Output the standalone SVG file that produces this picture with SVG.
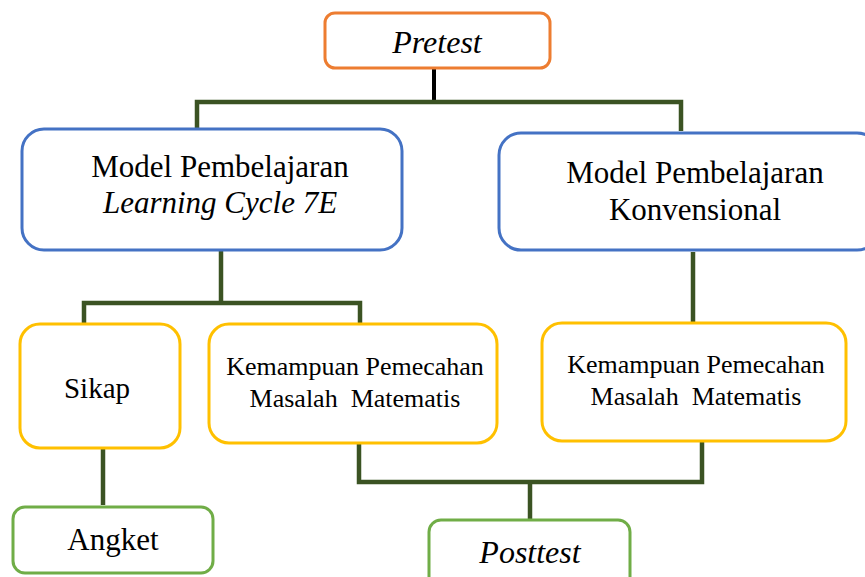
<svg xmlns="http://www.w3.org/2000/svg" width="865" height="577" viewBox="0 0 865 577">
<style>
.box{fill:#fff;stroke-width:3}
.o{stroke:#ED7D31}.b{stroke:#4472C4}.y{stroke:#FFC000}.g{stroke:#70AD47}
.i{font-style:italic}
.c{fill:none;stroke:#3B5323;stroke-width:4.5}
</style>
<rect width="865" height="577" fill="#fff"/>
<g id="connectors">
<line x1="434" y1="68" x2="434" y2="101" stroke="#000" stroke-width="4"/>
<polyline class="c" points="197,131 197,102 681,102 681,131"/>
<line class="c" x1="221" y1="250" x2="221" y2="303"/>
<polyline class="c" points="84,323 84,303 360,303 360,323"/>
<line class="c" x1="693" y1="252" x2="693" y2="322"/>
<line class="c" x1="103" y1="448" x2="103" y2="505"/>
<polyline class="c" points="359,443 359,482 702,482 702,441"/>
<line class="c" x1="530" y1="482" x2="530" y2="520"/>
</g>
<g font-family="Liberation Serif, serif" text-anchor="middle" fill="#000">
<g id="pretest"><rect class="box o" x="325" y="13" width="225" height="55" rx="10"/><text class="i" x="437" y="53" font-size="32">Pretest</text></g>
<g id="lc7e"><rect class="box b" x="22" y="129" width="380" height="121" rx="22"/><text x="220" y="177" font-size="31">Model Pembelajaran</text><text class="i" x="220" y="213" font-size="31">Learning Cycle 7E</text></g>
<g id="konv"><rect class="box b" x="499" y="133" width="380" height="117" rx="22"/><text x="695" y="183" font-size="31">Model Pembelajaran</text><text x="695" y="220" font-size="31">Konvensional</text></g>
<g id="sikap"><rect class="box y" x="20" y="324" width="160" height="124" rx="20"/><text x="97" y="398" font-size="29">Sikap</text></g>
<g id="kpm1"><rect class="box y" x="209" y="324" width="288" height="119" rx="20"/><text x="355" y="375" font-size="26">Kemampuan Pemecahan</text><text x="355" y="407" font-size="26" xml:space="preserve">Masalah  Matematis</text></g>
<g id="kpm2"><rect class="box y" x="542" y="323" width="304" height="118" rx="20"/><text x="696" y="373" font-size="26">Kemampuan Pemecahan</text><text x="696" y="405" font-size="26" xml:space="preserve">Masalah  Matematis</text></g>
<g id="angket"><rect class="box g" x="13" y="507" width="200" height="66" rx="12"/><text x="113" y="550" font-size="31">Angket</text></g>
<g id="posttest"><rect class="box g" x="429" y="520" width="201" height="70" rx="12"/><text class="i" x="530" y="563" font-size="32">Posttest</text></g>
</g>
</svg>
